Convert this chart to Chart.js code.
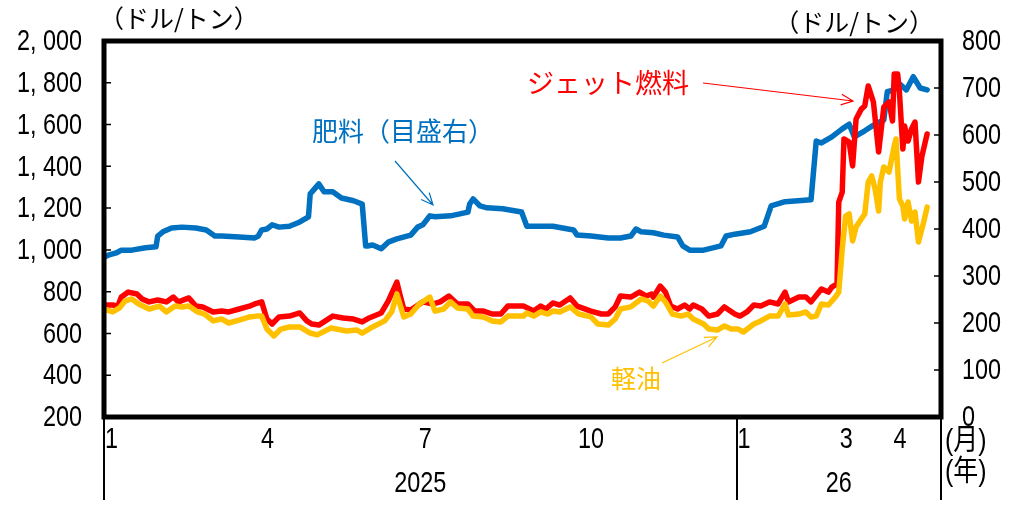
<!DOCTYPE html>
<html>
<head>
<meta charset="utf-8">
<script src="https://cdn.jsdelivr.net/npm/chart.js@4.4.1/dist/chart.umd.min.js"></script>
<style>
  body { margin: 0; background: #fff; }
</style>
</head>
<body>
<canvas id="chart" width="1022" height="509"></canvas>
<script>
// days counted from 2025-01-01
const fertDays = [0, 3, 7, 10, 16, 24, 30, 31, 34, 39, 45, 53, 59, 64, 68, 78, 87, 89, 91, 94, 97, 101, 107, 113, 118, 119, 120, 124, 127, 132, 137, 144, 149, 151, 152, 155, 160, 164, 169, 177, 181, 184, 188, 191, 200, 210, 211, 213, 217, 221, 230, 241, 244, 252, 259, 271, 273, 281, 291, 298, 304, 307, 310, 317, 323, 331, 334, 338, 346, 356, 359, 364, 373, 381, 385, 393, 408, 411, 414, 420, 426, 430, 433, 439, 445, 450, 452, 456, 459, 463, 467, 471, 475];
const fertValues = [340, 345, 349, 355, 355, 360, 362, 385, 394, 402, 404, 402, 398, 385, 385, 383, 381, 385, 398, 400, 409, 404, 406, 415, 426, 475, 479, 496, 479, 479, 466, 460, 453, 364, 364, 366, 358, 372, 379, 387, 404, 409, 428, 426, 428, 436, 453, 464, 449, 445, 443, 436, 406, 406, 406, 398, 387, 385, 381, 381, 385, 400, 394, 392, 387, 383, 364, 355, 355, 364, 385, 389, 394, 406, 449, 458, 462, 587, 583, 596, 613, 623, 596, 609, 623, 632, 692, 696, 709, 696, 724, 700, 696];

const jetDays = [0, 5, 8, 10, 14, 19, 22, 26, 31, 36, 40, 43, 49, 53, 57, 63, 68, 72, 78, 84, 87, 91, 94, 97, 101, 107, 113, 117, 120, 124, 132, 138, 144, 149, 153, 160, 164, 169, 171, 173, 177, 184, 190, 194, 199, 204, 210, 214, 219, 224, 229, 233, 242, 248, 252, 255, 259, 263, 269, 273, 281, 287, 291, 295, 298, 304, 309, 313, 316, 317, 321, 324, 327, 331, 335, 338, 340, 345, 349, 354, 358, 364, 367, 371, 375, 379, 384, 389, 393, 395, 401, 405, 408, 414, 418, 420, 423, 424, 426, 427, 430, 432, 434, 437, 439, 441, 444, 447, 450, 453, 455, 456, 458, 459, 461, 462, 464, 466, 468, 470, 472, 475];
const jetValues = [736, 736, 731, 774, 798, 789, 765, 751, 760, 751, 774, 751, 770, 731, 727, 703, 707, 703, 717, 731, 741, 751, 669, 645, 679, 683, 698, 660, 645, 640, 683, 674, 669, 655, 674, 698, 755, 846, 779, 717, 712, 751, 741, 751, 779, 741, 741, 707, 707, 693, 693, 731, 731, 707, 731, 717, 746, 736, 770, 731, 707, 693, 693, 727, 779, 774, 798, 779, 789, 774, 827, 798, 731, 717, 736, 717, 736, 717, 683, 693, 727, 693, 683, 703, 736, 731, 751, 741, 798, 751, 774, 774, 751, 813, 798, 822, 837, 1229, 1277, 1531, 1516, 1402, 1627, 1674, 1689, 1785, 1708, 1469, 1684, 1708, 1617, 1842, 1842, 1756, 1483, 1593, 1521, 1579, 1612, 1325, 1449, 1555];

const dieselDays = [0, 5, 9, 12, 16, 20, 26, 32, 36, 41, 45, 49, 54, 58, 63, 68, 72, 78, 84, 88, 91, 94, 98, 102, 107, 113, 119, 123, 131, 140, 146, 149, 155, 162, 166, 169, 173, 177, 182, 188, 191, 196, 200, 204, 210, 213, 219, 224, 229, 233, 242, 244, 248, 252, 256, 259, 263, 269, 274, 281, 285, 291, 295, 298, 304, 310, 314, 317, 321, 324, 328, 333, 337, 340, 346, 349, 354, 358, 362, 366, 369, 375, 379, 384, 389, 393, 395, 401, 405, 408, 411, 414, 418, 422, 424, 426, 428, 430, 432, 434, 437, 439, 441, 443, 445, 447, 448, 450, 453, 456, 457, 459, 461, 462, 464, 466, 468, 470, 473, 475];
const dieselValues = [717, 703, 722, 755, 765, 741, 717, 731, 703, 731, 727, 731, 703, 693, 660, 669, 650, 664, 679, 683, 683, 621, 588, 621, 631, 631, 602, 593, 626, 612, 616, 602, 631, 660, 703, 789, 679, 693, 741, 774, 707, 717, 751, 722, 717, 683, 679, 660, 655, 683, 683, 698, 683, 703, 693, 707, 703, 727, 693, 679, 645, 640, 669, 717, 727, 765, 755, 731, 779, 751, 693, 683, 693, 669, 645, 621, 616, 636, 621, 621, 607, 645, 660, 683, 683, 741, 688, 693, 703, 679, 683, 741, 736, 774, 798, 1004, 1162, 1172, 1043, 1110, 1148, 1172, 1325, 1354, 1291, 1186, 1325, 1397, 1373, 1497, 1531, 1244, 1210, 1148, 1229, 1138, 1181, 1038, 1133, 1205];

const monthTickDays = [0, 90, 181, 273, 365, 424, 455];
const monthTickLabels = ['1', '4', '7', '10', '1', '3', '4'];
const yearLabels = ['2025', '26'];
const yearBounds = [0, 365, 483];
const leftTicks = [200, 400, 600, 800, 1000, 1200, 1400, 1600, 1800, 2000];
const rightTicks = [0, 100, 200, 300, 400, 500, 600, 700, 800];

const NUM_FONT = "30px 'Liberation Sans', Arial, sans-serif";
const NUM_SQUEEZE = 0.78;
const JP_FONT = "'Noto Sans CJK JP', sans-serif";

function toPoints(days, values) {
    return days.map((d, i) => ({ x: d, y: values[i] }));
}

function formatThousands(v) {
    if (v < 1000) return String(v);
    return Math.floor(v / 1000) + ', ' + String(v % 1000).padStart(3, '0');
}

// narrow-looking numbers: draw with a horizontal squeeze
function narrowText(ctx, text, x, y, align, squeeze) {
    ctx.save();
    ctx.translate(x, y);
    ctx.scale(squeeze || NUM_SQUEEZE, 1);
    ctx.textAlign = align;
    ctx.fillText(text, 0, 0);
    ctx.restore();
}

function drawArrow(ctx, x1, y1, x2, y2, color) {
    const ang = Math.atan2(y2 - y1, x2 - x1);
    const len = 13;
    ctx.save();
    ctx.strokeStyle = color;
    ctx.lineWidth = 1.2;
    ctx.beginPath();
    ctx.moveTo(x1, y1);
    ctx.lineTo(x2, y2);
    ctx.moveTo(x2 - len * Math.cos(ang - 0.42), y2 - len * Math.sin(ang - 0.42));
    ctx.lineTo(x2, y2);
    ctx.lineTo(x2 - len * Math.cos(ang + 0.42), y2 - len * Math.sin(ang + 0.42));
    ctx.stroke();
    ctx.restore();
}

const decorations = {
    id: 'decorations',
    afterDatasetsDraw(chart) {
        const ctx = chart.ctx;
        const a = chart.chartArea;
        const xs = chart.scales.x;
        const yl = chart.scales.y;
        const yr = chart.scales.y1;

        ctx.save();
        // frame
        ctx.strokeStyle = '#000';
        ctx.lineWidth = 5;
        ctx.strokeRect(a.left, a.top, a.right - a.left, a.bottom - a.top);

        // inner tick marks
        ctx.lineWidth = 1.5;
        ctx.beginPath();
        leftTicks.forEach(v => {
            const y = yl.getPixelForValue(v);
            ctx.moveTo(a.left, y);
            ctx.lineTo(a.left + 7, y);
        });
        rightTicks.forEach(v => {
            const y = yr.getPixelForValue(v);
            ctx.moveTo(a.right, y);
            ctx.lineTo(a.right - 7, y);
        });
        ctx.stroke();

        // year separators
        ctx.lineWidth = 2;
        ctx.beginPath();
        yearBounds.forEach(d => {
            const x = Math.round(xs.getPixelForValue(d));
            ctx.moveTo(x, a.bottom);
            ctx.lineTo(x, 500);
        });
        ctx.stroke();

        // axis numbers
        ctx.fillStyle = '#000';
        ctx.font = NUM_FONT;
        ctx.textBaseline = 'middle';
        leftTicks.forEach(v => narrowText(ctx, formatThousands(v), 82, yl.getPixelForValue(v) + 1, 'right'));
        rightTicks.forEach(v => narrowText(ctx, String(v), 962, yr.getPixelForValue(v) + 1, 'left'));
        monthTickDays.forEach((d, i) => narrowText(ctx, monthTickLabels[i], xs.getPixelForValue(d) + 1, 440, 'left'));
        yearLabels.forEach((lab, i) => {
            const x = (xs.getPixelForValue(yearBounds[i]) + xs.getPixelForValue(yearBounds[i + 1])) / 2;
            narrowText(ctx, lab, x, 484, 'center');
        });

        ctx.font = "29px 'Liberation Sans', 'Noto Sans CJK JP', sans-serif";
        narrowText(ctx, '(月)', 945, 442, 'left', 0.86);
        narrowText(ctx, '(年)', 945, 473, 'left', 0.86);

        // unit titles
        ctx.font = '25px ' + JP_FONT;
        ctx.textAlign = 'left';
        ctx.fillText('（ドル/トン）', 99, 18);
        ctx.textAlign = 'right';
        ctx.fillText('（ドル/トン）', 934, 22);

        // series notes
        ctx.textAlign = 'left';
        ctx.font = '26px ' + JP_FONT;
        ctx.fillStyle = '#0070C0';
        ctx.fillText('肥料（目盛右）', 312, 131);
        ctx.font = '27px ' + JP_FONT;
        ctx.fillStyle = '#FF0000';
        ctx.fillText('ジェット燃料', 527, 83);
        ctx.font = '25px ' + JP_FONT;
        ctx.fillStyle = '#FFC000';
        ctx.fillText('軽油', 611, 378);

        drawArrow(ctx, 395, 161, 433, 205, '#0070C0');
        drawArrow(ctx, 703, 83, 853, 101, '#FF0000');
        drawArrow(ctx, 662, 363, 717, 337, '#FFC000');
        ctx.restore();
    }
};

new Chart(document.getElementById('chart').getContext('2d'), {
    type: 'line',
    data: {
        datasets: [
            {
                label: '軽油',
                data: toPoints(dieselDays, dieselValues),
                borderColor: '#FFC000',
                yAxisID: 'y',
                order: 0
            },
            {
                label: 'ジェット燃料',
                data: toPoints(jetDays, jetValues),
                borderColor: '#FF0000',
                yAxisID: 'y',
                order: 1
            },
            {
                label: '肥料（目盛右）',
                data: toPoints(fertDays, fertValues),
                borderColor: '#0070C0',
                yAxisID: 'y1',
                order: 2
            }
        ]
    },
    options: {
        responsive: false,
        animation: false,
        layout: { padding: { top: 41, left: 0, right: 0, bottom: 0 } },
        elements: {
            point: { radius: 0 },
            line: { borderWidth: 5.5, tension: 0, borderJoinStyle: 'round', borderCapStyle: 'round', fill: false }
        },
        plugins: {
            legend: { display: false },
            tooltip: { enabled: false }
        },
        scales: {
            x: {
                type: 'linear',
                min: 0,
                max: 483,
                grid: { display: false, drawTicks: false },
                border: { display: false },
                afterBuildTicks: s => { s.ticks = monthTickDays.map(v => ({ value: v })); },
                afterFit: s => { s.height = 92; },
                ticks: { display: false }
            },
            y: {
                position: 'left',
                min: 200,
                max: 2000,
                grid: { display: false, drawTicks: false },
                border: { display: false },
                afterBuildTicks: s => { s.ticks = leftTicks.map(v => ({ value: v })); },
                afterFit: s => { s.width = 104; },
                ticks: { display: false }
            },
            y1: {
                position: 'right',
                min: 0,
                max: 800,
                grid: { display: false, drawTicks: false },
                border: { display: false },
                afterBuildTicks: s => { s.ticks = rightTicks.map(v => ({ value: v })); },
                afterFit: s => { s.width = 81; },
                ticks: { display: false }
            }
        }
    },
    plugins: [decorations]
});
</script>
</body>
</html>
